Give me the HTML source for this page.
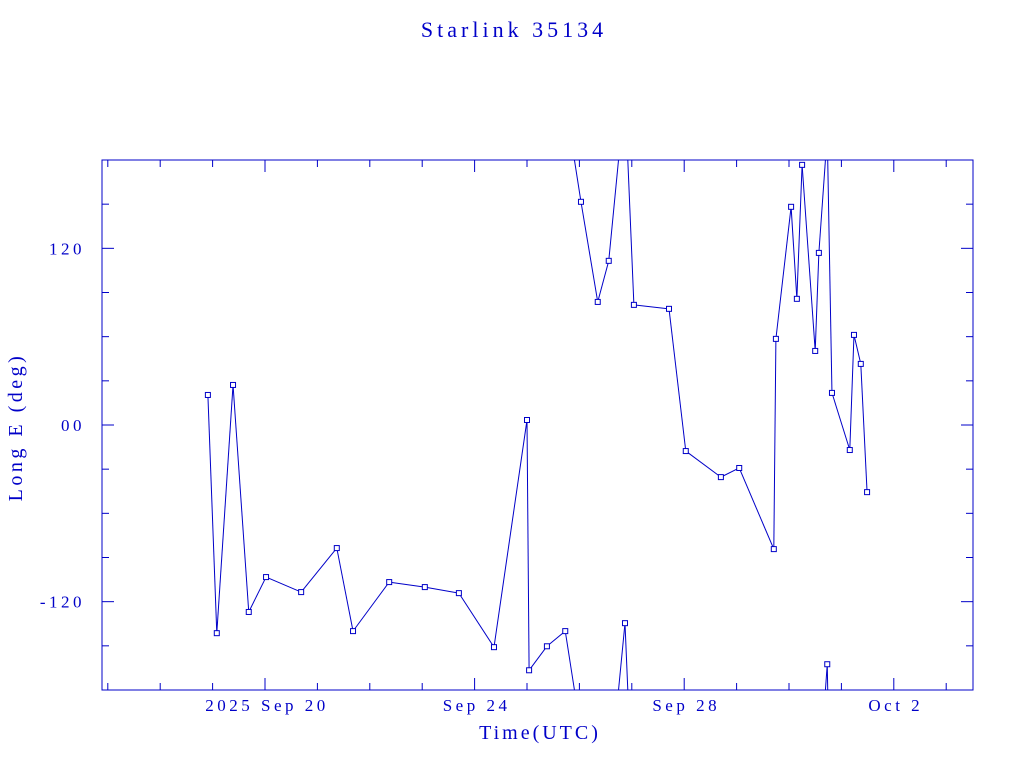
<!DOCTYPE html>
<html><head><meta charset="utf-8"><style>
html,body{margin:0;padding:0;background:#fff;overflow:hidden;width:1024px;height:768px;position:relative}
svg{display:block;position:absolute;left:0;top:0}
text{font-family:"Liberation Serif",serif;fill:#0000c8}
</style></head><body>
<svg id="c" width="1024" height="768" viewBox="0 0 1024 768" overflow="hidden">
<text x="514" y="37" font-size="22" letter-spacing="4" text-anchor="middle">Starlink 35134</text>
<text x="540" y="739" font-size="20" letter-spacing="3" text-anchor="middle">Time(UTC)</text>
<text x="0" y="0" font-size="20" letter-spacing="3.5" text-anchor="middle" transform="translate(22,427) rotate(-90)">Long E (deg)</text>
<g id="ax"></g>
</svg>
<script>
const days=[18.91,19.08,19.39,19.69,20.02,20.69,21.37,21.68,22.37,23.05,23.70,24.37,25.00,25.04,25.38,25.73,26.03,26.35,26.56,26.87,27.04,27.71,28.03,28.70,29.05,29.71,29.75,30.04,30.15,30.25,30.50,30.57,30.73,30.82,31.16,31.24,31.37,31.49];
const lons=[20.4,-141.4,27.2,-127.0,-103.3,-113.5,-83.6,-140.0,-106.7,-110.1,-114.2,-150.9,3.4,-166.6,-150.3,-140.0,151.6,83.6,111.5,-134.6,81.6,78.9,-17.7,-35.4,-29.2,-84.3,58.5,148.2,85.7,176.7,50.3,116.9,-162.5,21.8,-17.0,61.2,41.5,-45.6];
const yTicks=[120,0,-120];
const yTickLabels=["120","00","-120"];
const xTicks=[20,24,28,32];
const xTickLabels=["2025 Sep 20","Sep 24","Sep 28","Oct  2"];
const X0=102,X1=973,Y0=160,Y1=690;
const dMin=20-163/52.4,dMax=20+708/52.4;
const sx=d=>X0+(d-dMin)/(dMax-dMin)*(X1-X0);
const sy=v=>Y1-(v+180)/360*(Y1-Y0);
const NS="http://www.w3.org/2000/svg";
const g=document.getElementById('ax');
const C="#0000c8";
function mk(t,a){const e=document.createElementNS(NS,t);for(const k in a)e.setAttribute(k,a[k]);g.appendChild(e);return e;}
const clip=mk('clipPath',{id:'cp'});
const cr=document.createElementNS(NS,'rect');cr.setAttribute('x',X0);cr.setAttribute('y',Y0);cr.setAttribute('width',X1-X0);cr.setAttribute('height',Y1-Y0);clip.appendChild(cr);
const frame=mk('rect',{x:X0,y:Y0,width:X1-X0,height:Y1-Y0,fill:'none',stroke:C,'stroke-width':1});


for(let v=-150;v<=150;v+=30){const L=(v%120===0)?12:7;
 const a=mk('line',{x1:X0,x2:X0+L,y1:sy(v),y2:sy(v),stroke:C});
 const b=mk('line',{x1:X1,x2:X1-L,y1:sy(v),y2:sy(v),stroke:C});}
yTicks.forEach((v,i)=>{const t=mk('text',{x:85,y:sy(v)+6,'font-size':17,'letter-spacing':3.5,'text-anchor':'end'});t.textContent=yTickLabels[i];
 });
for(let d=Math.ceil(dMin);d<=dMax;d++){const L=(d%4===0)?12:7;
 const a=mk('line',{x1:sx(d),x2:sx(d),y1:Y1,y2:Y1-L,stroke:C});
 const b=mk('line',{x1:sx(d),x2:sx(d),y1:Y0,y2:Y0+L,stroke:C});}
xTicks.forEach((d,i)=>{const t=mk('text',{x:sx(d)+2,y:711,'font-size':17,'letter-spacing':3.5,'text-anchor':'middle','xml:space':'preserve'});t.textContent=xTickLabels[i];
 });
const sg=mk('g',{'clip-path':'url(#cp)'});


function seg(x1,y1,x2,y2){const l=document.createElementNS(NS,'line');l.setAttribute('x1',x1);l.setAttribute('y1',y1);l.setAttribute('x2',x2);l.setAttribute('y2',y2);l.setAttribute('stroke',C);l.setAttribute('stroke-width',1);
 
 
 sg.appendChild(l);}
for(let i=0;i<days.length-1;i++){let a=lons[i],b=lons[i+1];const d=b-a;
 if(Math.abs(d)<=180){seg(sx(days[i]),sy(a),sx(days[i+1]),sy(b));}
 else{const s=d>0?-360:360;seg(sx(days[i]),sy(a),sx(days[i+1]),sy(b+s));seg(sx(days[i]),sy(a-s),sx(days[i+1]),sy(b));}}
days.forEach((d,i)=>{const r=document.createElementNS(NS,'rect');r.setAttribute('x',sx(d)-2.5);r.setAttribute('y',sy(lons[i])-2.5);r.setAttribute('width',5);r.setAttribute('height',5);r.setAttribute('fill','#fff');r.setAttribute('stroke',C);
 
 
 sg.appendChild(r);});
</script>
</body></html>
